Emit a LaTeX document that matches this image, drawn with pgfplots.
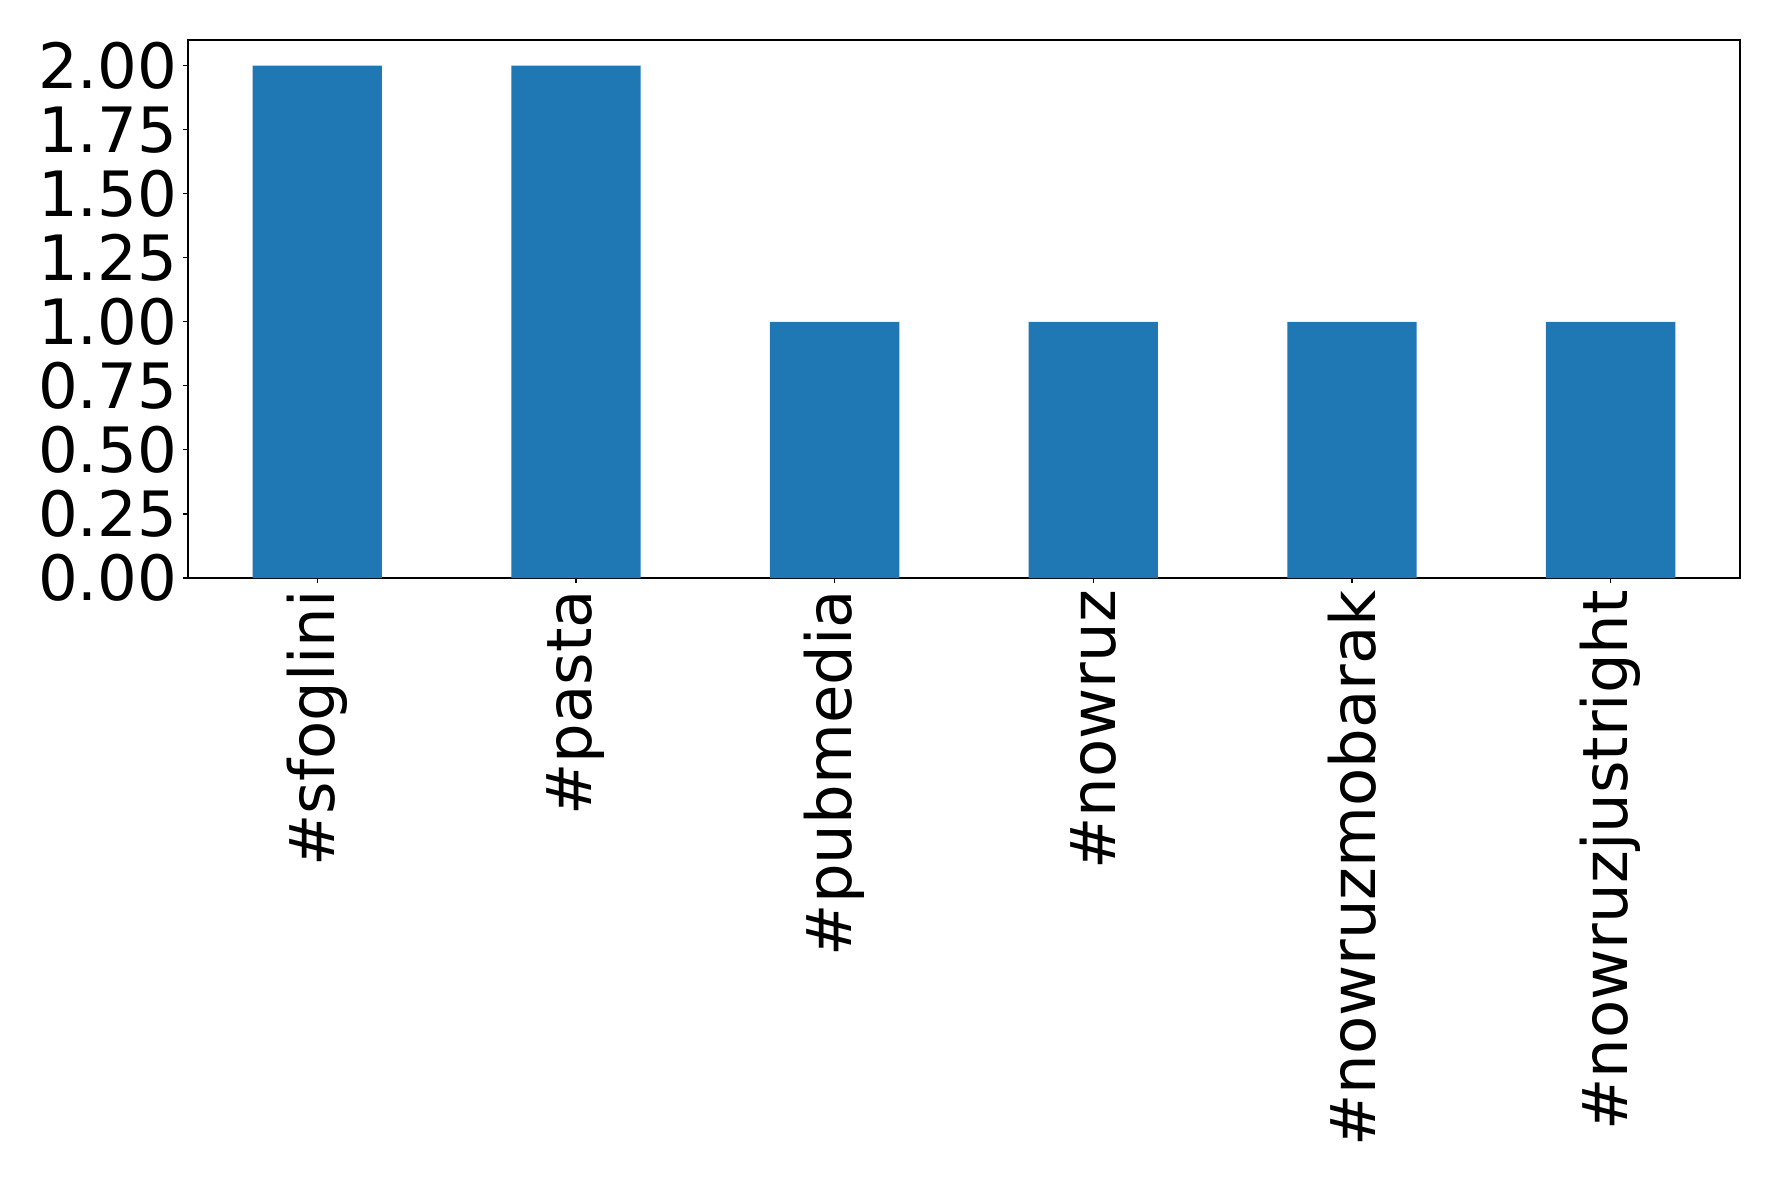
\documentclass[border=0pt]{standalone}
\usepackage{fontspec}
\setmainfont{DejaVu Sans}
\usepackage{pgfplots}
\pgfplotsset{compat=1.18}
\definecolor{mplblue}{HTML}{1F77B4}
\begin{document}
\begin{tikzpicture}
\path[use as bounding box] (-135.36pt,-436.32pt) rectangle (1144.8pt,416.16pt);
\begin{axis}[
  at={(0pt,0pt)}, anchor=south west,
  scale only axis,
  width=1117.44pt, height=387.36pt,
  xmin=-0.5, xmax=5.5, ymin=0, ymax=2.1,
  xtick={0,1,2,3,4,5},
  xticklabels={\#sfoglini,\#pasta,\#pubmedia,\#nowruz,\#nowruzmobarak,\#nowruzjustright},
  ytick={0,0.25,0.5,0.75,1,1.25,1.5,1.75,2},
  yticklabel style={/pgf/number format/fixed, /pgf/number format/fixed zerofill, /pgf/number format/precision=2},
  /pgf/number format/assume math mode=true,
  tick label style={font=\fontsize{45}{54}\selectfont},
  xticklabel style={rotate=90, anchor=east, inner sep=0pt, xshift=-5pt},
  yticklabel style={anchor=east, inner sep=0pt, xshift=-4pt},
  tick align=outside,
  xtick pos=bottom, ytick pos=left,
  major tick length=3.5pt,
  tick style={black, line width=0.8pt},
  axis line style={black, line width=0.8pt},
]
\addplot[ybar, bar width=0.5, fill=mplblue, draw=none] coordinates {
  (0,2) (1,2) (2,1) (3,1) (4,1) (5,1)
};
\end{axis}
\end{tikzpicture}
\end{document}
